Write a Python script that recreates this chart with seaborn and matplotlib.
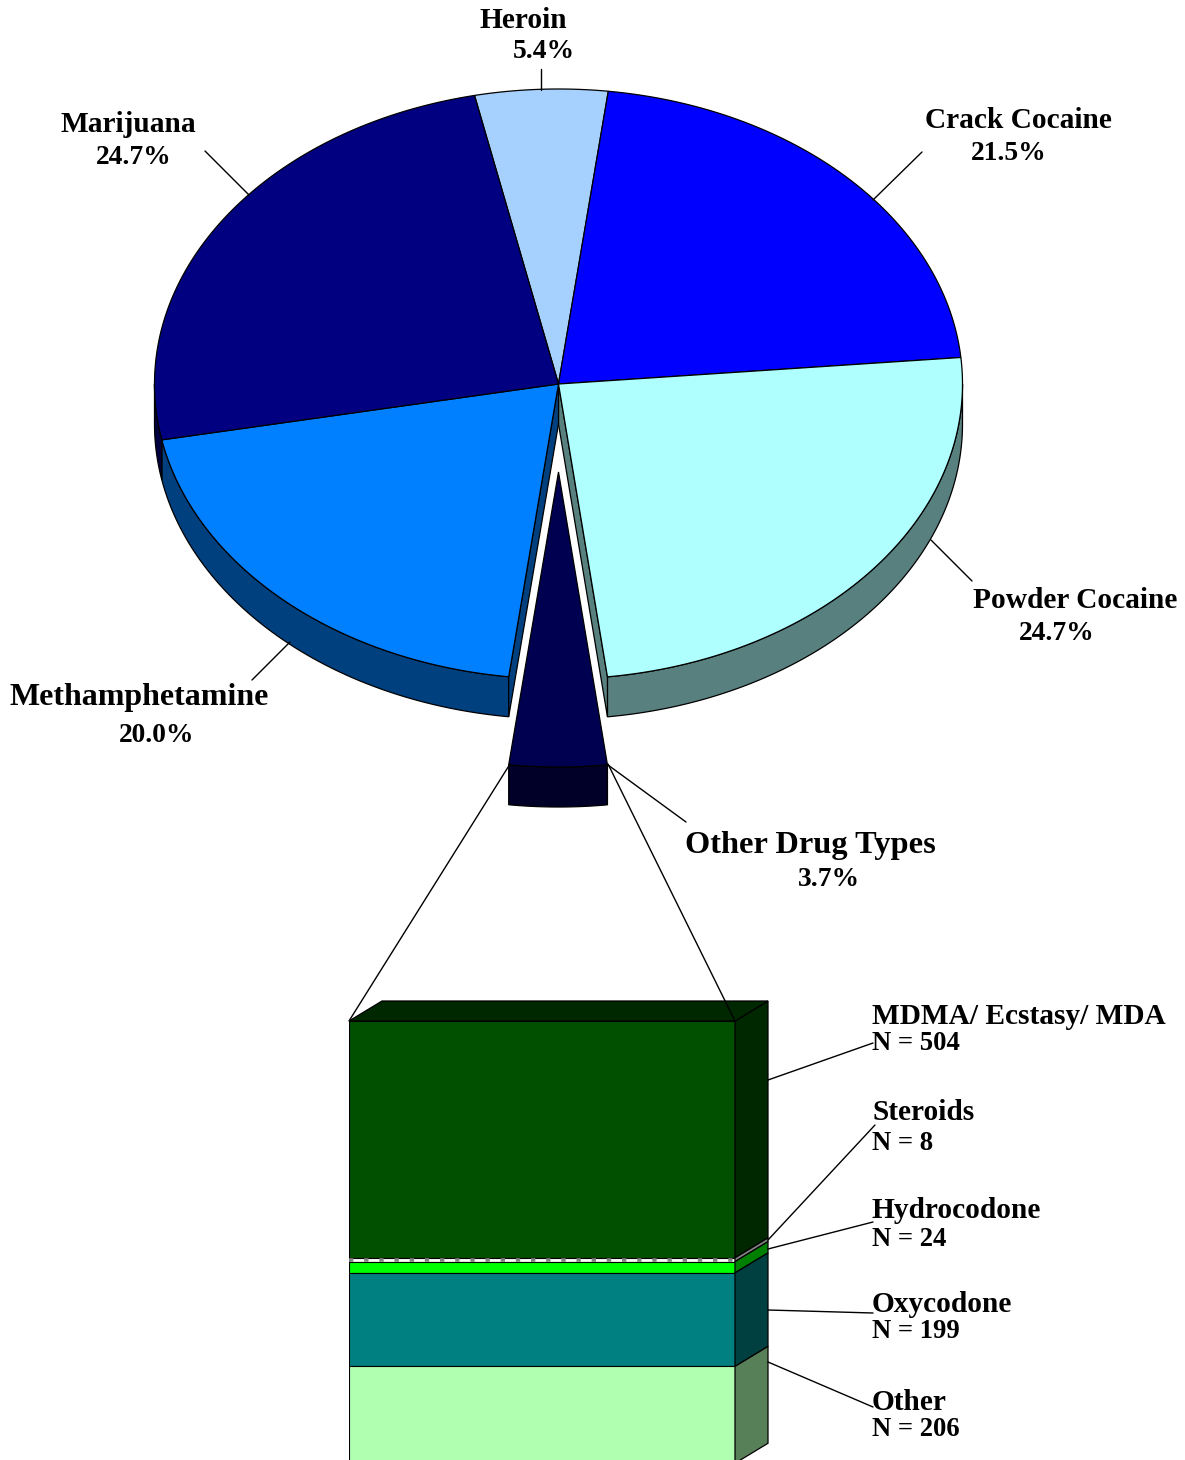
import numpy as np
import matplotlib
matplotlib.use('Agg')
import matplotlib.pyplot as plt
import seaborn as sns

# pie data (percent), clockwise starting from Heroin
# slice sizes are read off the drawn slices, labels are the printed ones
drugs = ['Heroin', 'Crack Cocaine', 'Powder Cocaine', 'Other Drug Types', 'Methamphetamine', 'Marijuana']
pct = [5.3, 21.6, 24.5, 3.9, 20.0, 24.7]
pct_labels = ['5.4%', '21.5%', '24.7%', '3.7%', '20.0%', '24.7%']
top_colors = ['#A6D1FF', '#0000FF', '#AFFFFF', '#000050', '#0080FF', '#000080']
side_colors = ['#536880', '#000080', '#58807F', '#000028', '#00407F', '#000040']

# breakdown of other drug types, top to bottom
other_types = ['MDMA/ Ecstasy/ MDA', 'Steroids', 'Hydrocodone', 'Oxycodone', 'Other']
other_n = [504, 8, 24, 199, 206]
bar_colors = ['#005000', '#FFFFFF', '#00FF00', '#008080', '#B0FFB0']
bar_side_colors = ['#002800', '#808080', '#008000', '#004040', '#588058']

sns.set_theme(style='white')
plt.rcParams['font.family'] = ['Liberation Serif', 'DejaVu Serif']
plt.rcParams['font.weight'] = 'bold'

W, H = 1185, 1460
fig = plt.figure(figsize=(W / 100, H / 100), dpi=100)
ax = fig.add_axes([0, 0, 1, 1])
ax.set_xlim(0, W)
ax.set_ylim(H, 0)
ax.axis('off')
ax.set_zorder(2)

# pie geometry in pixels
cx, cy, rx, ry = 558.5, 384, 404, 295
depth = 40
explode = 88
start = -12
edge = dict(edgecolor='black', linewidth=0.9)


def arc(t0, t1, off=0.0, shift=0.0):
    t = np.radians(np.linspace(t0, t1, 120))
    return cx + rx * np.sin(t), cy + off + shift - ry * np.cos(t)


bounds = start + np.concatenate([[0], np.cumsum(pct)]) * 3.6


def draw_side(i, off):
    t0 = max(bounds[i], 90)
    t1 = min(bounds[i + 1], 270)
    if t1 <= t0:
        return
    xa, ya = arc(t0, t1, off)
    xb, yb = arc(t0, t1, off, depth)
    ax.fill(np.r_[xa, xb[::-1]], np.r_[ya, yb[::-1]], color=side_colors[i], zorder=2, **edge)


for i in range(len(pct)):
    if i != 3:
        draw_side(i, 0)

# cut faces left open by the pulled out slice
for i, b in ((2, bounds[3]), (4, bounds[4])):
    xa, ya = arc(b, b)
    ax.fill([cx, xa[0], xa[0], cx], [cy, ya[0], ya[0] + depth, cy + depth],
            color=side_colors[i], zorder=2, **edge)

for i in range(len(pct)):
    off = explode if i == 3 else 0
    xa, ya = arc(bounds[i], bounds[i + 1], off)
    ax.fill(np.r_[cx, xa], np.r_[cy + off, ya], color=top_colors[i], zorder=3, **edge)
draw_side(3, explode)

# stacked bar on its own axes, y in counts
px_per_n = 0.47
bar_l, bar_w, bar_top = 349, 386, 1021
side_dx, side_dy = 33, 20
total = sum(other_n)
dx = side_dx / bar_w
dy = side_dy / px_per_n
bar_bottom = bar_top + total * px_per_n
ax_bar = fig.add_axes([bar_l / W, 1 - bar_bottom / H, (bar_w + side_dx + 2) / W,
                       (bar_bottom - bar_top + side_dy + 2) / H])
ax_bar.patch.set_alpha(0)
tops = np.r_[0, np.cumsum(other_n)]
for n, b, c in zip(other_n, tops[:-1], bar_colors):
    sns.barplot(x=['other'], y=[n], bottom=b, width=1, color=c, saturation=1,
                edgecolor='black', linewidth=0.8, ax=ax_bar)
for i, c in enumerate(bar_side_colors):
    ax_bar.fill([0.5, 0.5 + dx, 0.5 + dx, 0.5],
                [tops[i], tops[i] - dy, tops[i + 1] - dy, tops[i + 1]], color=c, **edge)
ax_bar.fill([-0.5, -0.5 + dx, 0.5 + dx, 0.5], [0, -dy, -dy, 0], color=bar_side_colors[0], **edge)
mid = (tops[1] + tops[2]) / 2
ax_bar.plot([-0.5, 0.5], [mid, mid], color='#808080', lw=2.6, ls=(0, (1.2, 3)), dash_capstyle='butt')
ax_bar.set_xlim(-0.5, 0.5 + (side_dx + 2) / bar_w)
ax_bar.set_ylim(total, -(side_dy + 2) / px_per_n)
ax_bar.axis('off')

# leader lines
lines = [((541, 69), (541, 90)), ((205, 151), (249, 195)), ((922, 152), (873, 200)),
         ((972, 581), (931, 540)), ((252, 680), (290, 642)), ((686, 822), (608, 765)),
         ((510, 764), (349, 1021)), ((608, 764), (735, 1021)),
         ((873, 1043), (768, 1080)), ((875, 1125), (768, 1240)), ((873, 1222), (768, 1249)),
         ((873, 1313), (768, 1310)), ((873, 1407), (768, 1362))]
for (x0, y0), (x1, y1) in lines:
    ax.plot([x0, x1], [y0, y1], color='black', lw=1.0, zorder=4)

# pie labels: name x, name y, pct x, pct y, name size
pie_text = [(523.5, 21, 544, 52, 21.2), (1018, 121, 1008.5, 154, 21.2), (1075, 601, 1057, 634, 21.2),
            (810, 846, 829, 880, 23.3), (139, 698, 157, 736, 23), (128.5, 124, 133.5, 158, 21.2)]
for name, p, (nx, ny, px, py, size) in zip(drugs, pct_labels, pie_text):
    ax.text(nx, ny, name, ha='center', va='center', fontsize=size, fontweight='bold', color='black', zorder=5)
    ax.text(px, py, p, ha='center', va='center', fontsize=19.8, fontweight='bold', color='black', zorder=5)

# bar labels
bar_text_y = [(1017, 1044), (1113, 1144), (1210, 1240), (1305, 1332), (1403, 1430)]
for name, n, (y0, y1) in zip(other_types, other_n, bar_text_y):
    ax.text(872, y0, name, ha='left', va='center', fontsize=21.2, fontweight='bold', color='black', zorder=5)
    ax.text(872, y1, f'N = {n}', ha='left', va='center', fontsize=19.2, fontweight='bold', color='black', zorder=5)

fig.savefig('out.png', dpi=100)
